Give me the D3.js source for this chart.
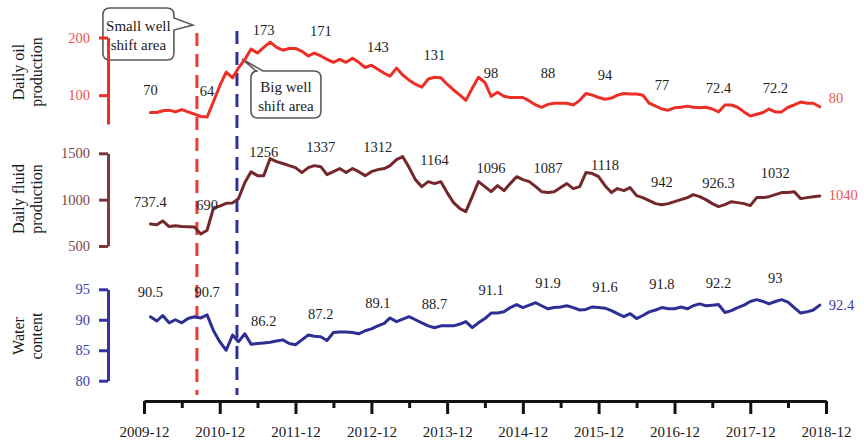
<!DOCTYPE html>
<html><head><meta charset="utf-8">
<script src="https://cdn.jsdelivr.net/npm/d3@7"></script>
<style>
html,body{margin:0;padding:0;background:#fff;}
svg{display:block;font-family:"Liberation Serif","DejaVu Serif","Times New Roman",serif;}
</style></head><body>
<svg id="chart" width="864" height="442"></svg>
<script>
// Monthly well-block production history, 2010-01 .. 2018-11
const firstMonth = "2010-01";

const oilProduction = [
  70,70,73,74,71,75,71,67,63,62,
  89,116,140,130,147,162,180,173,183,192,
  183,178,181,181,176,168,173,168,162,157,
  162,157,164,157,148,152,145,138,133,147,
  135,126,119,114,128,131,130,119,109,100,
  91,112,131,122,98,105,98,96,96,96,
  90,83,79,84,86,86,86,83,91,103,
  100,96,93,95,100,103,102,102,100,86,
  81,76,74,78,79,81,79,78,79,76,
  71,83,83,79,71,64,67,70,76,71,
  71,79,83,88,86,86,80
];

const fluidProduction = [
  737.4,730,770,710,718,710,708,705,630,670,
  910,930,960,965,1010,1184,1300,1259,1259,1443,
  1410,1390,1367,1346,1292,1346,1367,1356,1270,1302,
  1335,1292,1335,1302,1259,1302,1324,1335,1367,1432,
  1464,1346,1216,1140,1194,1173,1194,1076,968,903,
  870,1032,1194,1140,1086,1151,1097,1173,1248,1216,
  1194,1140,1086,1076,1086,1130,1173,1119,1140,1292,
  1281,1248,1151,1076,1119,1097,1130,1043,1022,989,
  957,946,957,978,1000,1022,1054,1032,1000,957,
  924,946,978,968,957,935,1022,1022,1032,1054,
  1076,1076,1086,1011,1022,1032,1040
];

const waterContent = [
  90.5,89.8,90.7,89.5,90.0,89.5,90.2,90.5,90.3,90.8,
  88.2,86.4,85.0,87.5,86.4,87.7,86.0,86.1,86.2,86.3,
  86.5,86.7,86.1,85.9,86.7,87.5,87.3,87.2,86.6,87.9,
  88.0,88.0,87.9,87.7,88.2,88.5,89.0,89.4,90.3,89.7,
  90.1,90.5,90.0,89.5,89.0,88.7,89.0,89.0,89.0,89.3,
  89.7,88.7,89.5,90.2,91.1,91.1,91.3,92.0,92.5,92.0,
  92.4,92.8,92.3,91.8,92.0,92.1,92.3,92.0,91.6,91.7,
  92.1,92.0,91.9,91.5,91.0,90.5,91.0,90.2,90.7,91.3,
  91.6,92.0,91.8,91.8,92.1,91.8,92.3,92.6,92.3,92.4,
  92.5,91.2,91.5,92.0,92.4,93.0,93.3,93.0,92.6,93.0,
  93.3,92.9,92.0,91.1,91.3,91.6,92.4
];

// Periodic value notes: month index (1 = first month) and note text
const noteMonths = [1,10,19,28,37,46,55,64,73,82,91,100];
const oilNotes   = ["70","64","173","171","143","131","98","88","94","77","72.4","72.2"];
const fluidNotes = ["737.4","690","1256","1337","1312","1164","1096","1087","1118","942","926.3","1032"];
const waterNotes = ["90.5","90.7","86.2","87.2","89.1","88.7","91.1","91.9","91.6","91.8","92.2","93"];
// level (in each panel's units) at which each note sits
const oilNoteLevels   = [100,98,204,202,174,161,129,129,126,109,103,103];
const fluidNoteLevels = [924,892,1464,1518,1518,1378,1292,1292,1324,1140,1130,1238];
const waterNoteLevels = [93.8,93.8,89.0,90.2,92.0,91.8,94.1,95.2,94.6,95.1,95.2,96.1];

const xTickLabels = ["2009-12","2010-12","2011-12","2012-12","2013-12","2014-12","2015-12","2016-12","2017-12","2018-12"];
const oilTicks = [100, 200];
const fluidTicks = [500, 1000, 1500];
const waterTicks = [80, 85, 90, 95];

const shiftEvents = [
  {name: ["Small well", "shift area"], date: "2010-08-13"},
  {name: ["Big well", "shift area"], date: "2011-02-22"}
];

// ---------------------------------------------------------------
const parseMonth = d3.timeParse("%Y-%m");
const parseDay = d3.timeParse("%Y-%m-%d");
const start = parseMonth(firstMonth);
const dates = oilProduction.map((_, i) => d3.timeMonth.offset(start, i));
const majorDates = xTickLabels.map(parseMonth);
const minorDates = majorDates.slice(0, -1).map(d => d3.timeMonth.offset(d, 6));

const svg = d3.select("#chart");

const x = d3.scaleTime().domain([majorDates[0], majorDates[majorDates.length - 1]]).range([144, 826]);

const panels = [
  {values: oilProduction, notes: oilNotes, levels: oilNoteLevels, ticks: oilTicks,
   y: d3.scaleLinear().domain([50, 200]).range([124, 37.5]),
   line: "#ec2f26", axis: "#ec2f26", tickText: "#f0554d", endText: "#f0554d", endDy: -4,
   title: ["Daily oil", "production"], titleY: 72},
  {values: fluidProduction, notes: fluidNotes, levels: fluidNoteLevels, ticks: fluidTicks,
   y: d3.scaleLinear().domain([500, 1500]).range([246, 153.3]),
   line: "#74282c", axis: "#7b3a3c", tickText: "#7b4547", endText: "#f0554d", endDy: 4,
   title: ["Daily fluid", "production"], titleY: 199},
  {values: waterContent, notes: waterNotes, levels: waterNoteLevels, ticks: waterTicks,
   y: d3.scaleLinear().domain([80, 95]).range([380.7, 289.3]),
   line: "#2e2f95", axis: "#3434a0", tickText: "#3d3daa", endText: "#3d3daa", endDy: 5,
   title: ["Water", "content"], titleY: 336}
];

// Vertical dashed markers for the two shift events
const shiftColors = ["#ee3a30", "#2f2f9e"];
shiftEvents.forEach((ev, i) => {
  const xp = x(parseDay(ev.date));
  svg.append("line")
    .attr("x1", xp).attr("x2", xp)
    .attr("y1", i === 0 ? 33 : 31).attr("y2", 395)
    .attr("stroke", shiftColors[i]).attr("stroke-width", 3)
    .attr("stroke-dasharray", "13,8");
});

panels.forEach(p => {
  // series line
  const line = d3.line().x((d, i) => x(dates[i])).y(v => p.y(v)).curve(d3.curveLinear);
  svg.append("path").datum(p.values)
    .attr("d", line).attr("fill", "none")
    .attr("stroke", p.line).attr("stroke-width", 3)
    .attr("stroke-linejoin", "round").attr("stroke-linecap", "round");

  // value notes
  svg.append("g").selectAll("text").data(p.notes).join("text")
    .attr("x", (d, i) => x(dates[noteMonths[i] - 1]))
    .attr("y", (d, i) => p.y(p.levels[i]))
    .attr("text-anchor", "middle")
    .attr("font-size", 14.5).attr("fill", "#1e1e1e")
    .text(d => d);

  // last value label
  const last = p.values[p.values.length - 1];
  svg.append("text")
    .attr("x", x(dates[dates.length - 1]) + 9)
    .attr("y", p.y(last) + p.endDy)
    .attr("font-size", 14.5).attr("fill", p.endText)
    .text(String(last));

  // y axis
  const ax = svg.append("g").attr("transform", "translate(108,0)")
    .call(d3.axisLeft(p.y).tickValues(p.ticks).tickFormat(d3.format("d"))
      .tickSize(9).tickSizeOuter(0).tickPadding(9));
  ax.attr("font-family", null).attr("font-size", null);
  ax.select(".domain").attr("stroke", p.axis).attr("stroke-width", 3);
  ax.selectAll(".tick line").attr("stroke", p.axis).attr("stroke-width", 3);
  ax.selectAll(".tick text").attr("fill", p.tickText).attr("font-size", 14.5);

  // axis title (two rotated lines)
  p.title.forEach((t, k) => {
    svg.append("text")
      .attr("transform", `translate(${24 + k * 18},${p.titleY}) rotate(-90)`)
      .attr("text-anchor", "middle").attr("font-size", 16).attr("fill", "#1a1a1a")
      .text(t);
  });
});

// x axis: yearly major ticks with labels, half-year minor ticks
const xMajor = svg.append("g").attr("transform", "translate(0,401)")
  .call(d3.axisBottom(x).tickValues(majorDates).tickSize(13).tickSizeOuter(0).tickPadding(12)
    .tickFormat((d, i) => xTickLabels[i]));
xMajor.attr("font-family", null).attr("font-size", null);
xMajor.select(".domain").attr("stroke", "#111").attr("stroke-width", 3);
xMajor.selectAll(".tick line").attr("stroke", "#111").attr("stroke-width", 3);
xMajor.selectAll(".tick text").attr("fill", "#1a1a1a").attr("font-size", 15);

const xMinor = svg.append("g").attr("transform", "translate(0,401)")
  .call(d3.axisBottom(x).tickValues(minorDates).tickSize(7).tickSizeOuter(0).tickFormat(""));
xMinor.select(".domain").remove();
xMinor.selectAll(".tick line").attr("stroke", "#111").attr("stroke-width", 3);

// Speech-bubble callouts for the shift events
function bubble(x0, y0, x1, y1, r, tail) {
  const p = d3.path();
  p.moveTo(x0 + r, y0);
  if (tail.side === "top") { p.lineTo(tail.a, y0); p.lineTo(tail.tx, tail.ty); p.lineTo(tail.b, y0); }
  p.lineTo(x1 - r, y0);
  p.quadraticCurveTo(x1, y0, x1, y0 + r);
  if (tail.side === "right") { p.lineTo(x1, tail.a); p.lineTo(tail.tx, tail.ty); p.lineTo(x1, tail.b); }
  p.lineTo(x1, y1 - r);
  p.quadraticCurveTo(x1, y1, x1 - r, y1);
  p.lineTo(x0 + r, y1);
  p.quadraticCurveTo(x0, y1, x0, y1 - r);
  p.lineTo(x0, y0 + r);
  p.quadraticCurveTo(x0, y0, x0 + r, y0);
  p.closePath();
  return p.toString();
}

const xs = x(parseDay(shiftEvents[0].date));
const xb = x(parseDay(shiftEvents[1].date));
const callouts = svg.insert("g", ":first-child");
callouts.append("path")
  .attr("d", bubble(xs - 94, 8, xs - 23, 60, 7, {side: "right", a: 18, b: 30, tx: xs - 4, ty: 25}))
  .attr("fill", "#fff").attr("stroke", "#5a5a5a").attr("stroke-width", 1.6);
callouts.append("path")
  .attr("d", bubble(xb + 14, 71, xb + 84, 118, 7, {side: "top", a: xb + 19, b: xb + 26, tx: xb + 5, ty: 59}))
  .attr("fill", "#fff").attr("stroke", "#5a5a5a").attr("stroke-width", 1.6);

// bubble text drawn on top of everything
[[shiftEvents[0], xs - 58.5, [31, 50]], [shiftEvents[1], xb + 49, [92, 111]]].forEach(([ev, cx, ys]) => {
  ev.name.forEach((t, k) => {
    svg.append("text").attr("x", cx).attr("y", ys[k])
      .attr("text-anchor", "middle").attr("font-size", 15).attr("fill", "#1a1a1a").text(t);
  });
});
</script>
</body></html>
